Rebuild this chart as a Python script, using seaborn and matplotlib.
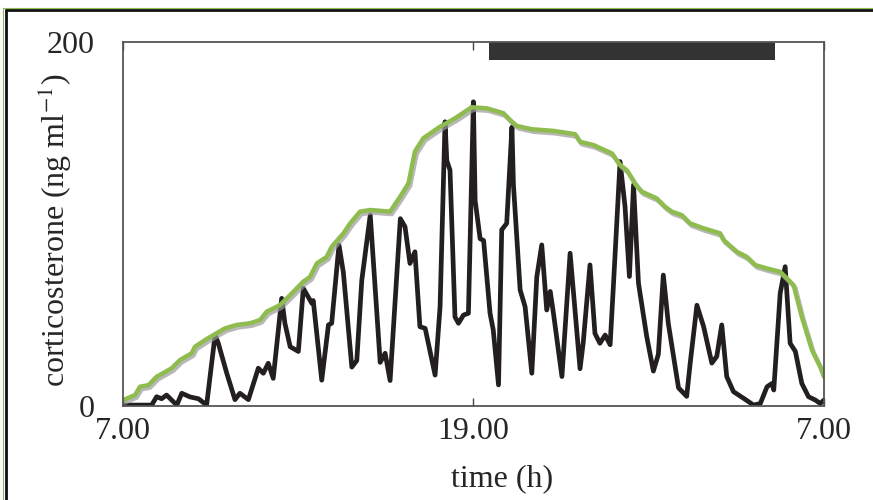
import numpy as np
import pandas as pd
import matplotlib
matplotlib.use("Agg")
import matplotlib.pyplot as plt
import matplotlib.patheffects as pe
from matplotlib.lines import Line2D
import seaborn as sns

# black line: corticosterone pulses (time in h since 7.00)
pulse_t = [0.0, 0.99, 1.16, 1.33, 1.50, 1.85, 2.02, 2.30, 2.59, 2.87, 3.16, 3.27, 3.56, 3.84,
           4.01, 4.30, 4.64, 4.81, 4.98, 5.15, 5.44, 5.55, 5.73, 6.01, 6.18, 6.47, 6.52, 6.81,
           7.04, 7.15, 7.40, 7.55, 7.84, 8.01, 8.18, 8.47, 8.81, 8.98, 9.15, 9.50, 9.66, 9.83,
           10.0, 10.17, 10.35, 10.69, 10.86, 11.03, 11.09, 11.20, 11.37, 11.49, 11.66, 11.83,
           12.0, 12.06, 12.23, 12.35, 12.57, 12.68, 12.86, 12.97, 13.14, 13.32, 13.37, 13.60,
           13.77, 14.0, 14.17, 14.34, 14.51, 14.63, 14.74, 15.03, 15.31, 15.65, 15.76, 15.99,
           16.16, 16.33, 16.51, 16.68, 16.79, 17.02, 17.19, 17.34, 17.48, 17.65, 17.93, 18.16,
           18.33, 18.50, 18.67, 19.02, 19.30, 19.42, 19.65, 19.88, 20.16, 20.33, 20.50, 20.67,
           20.90, 21.24, 21.59, 21.82, 22.05, 22.22, 22.28, 22.50, 22.67, 22.84, 23.02, 23.24,
           23.47, 23.70, 23.87, 24.0]
pulse_y = [0.5, 0.5, 5.1, 4.0, 6.0, 0.5, 7.0, 5.0, 4.0, 0.5, 39.0, 34.5, 18.0, 3.5,
           7.0, 3.5, 20.8, 18.0, 23.5, 15.2, 59.2, 45.5, 32.6, 30.0, 64.7, 56.5, 58.0, 14.2,
           44.6, 45.5, 88.5, 73.5, 21.4, 25.0, 69.0, 105.0, 24.0, 29.0, 14.0, 103.0, 98.6, 78.4,
           84.8, 43.6, 42.7, 17.0, 54.6, 156.3, 135.0, 129.7, 49.0, 45.5, 50.0, 51.0,
           167.3, 113.0, 92.0, 91.0, 51.0, 41.8, 11.6, 96.9, 100.4, 153.4, 122.0, 63.8,
           54.6, 18.0, 71.0, 88.6, 52.8, 63.0, 51.0, 16.2, 84.0, 20.5, 35.0, 77.6,
           39.9, 34.5, 39.0, 33.7, 65.6, 134.4, 109.6, 71.2, 121.6, 67.5, 38.4, 19.2,
           28.4, 72.0, 45.5, 10.0, 5.3, 23.6, 55.4, 43.6, 23.6, 27.3, 44.6, 16.2,
           7.9, 4.3, 0.5, 1.4, 10.6, 12.4, 8.8, 62.0, 76.6, 34.5, 30.0, 12.4,
           5.1, 3.3, 1.4, 3.3]

# green line: envelope
env_t = [0.02, 0.42, 0.59, 0.88, 1.16, 1.67, 1.96, 2.36, 2.47, 2.82, 3.10, 3.50, 3.90, 4.36,
         4.70, 4.93, 5.38, 5.73, 6.18, 6.41, 6.64, 6.98, 7.15, 7.55, 7.78, 8.12, 8.47, 9.15,
         9.49, 9.78, 10.0, 10.29, 10.86, 11.37, 11.94, 12.46, 13.03, 13.26, 13.49, 14.0,
         14.74, 15.48, 15.65, 16.11, 16.74, 17.02, 17.25, 17.53, 17.76, 18.27, 18.56, 18.79,
         19.13, 19.42, 19.88, 20.44, 20.56, 21.02, 21.36, 21.65, 22.05, 22.50, 22.79, 22.96,
         23.24, 23.59, 23.87, 24.0]
env_y = [3.3, 6.0, 10.6, 11.5, 16.1, 20.7, 25.3, 29.0, 32.6, 36.3, 39.0, 42.7, 44.6, 45.5,
         47.3, 51.9, 55.5, 61.0, 68.4, 71.0, 78.4, 82.0, 87.6, 94.9, 100.4, 106.9, 107.8, 106.9,
         115.0, 122.5, 140.0, 147.3, 153.6, 158.2, 164.3, 163.7, 161.0, 157.2, 154.0, 152.2,
         151.3, 149.5, 145.3, 143.5, 138.9, 132.5, 129.7, 122.4, 117.9, 114.2, 109.6, 106.9,
         105.0, 100.4, 97.7, 95.0, 91.3, 84.8, 82.0, 77.5, 75.6, 73.8, 69.2, 66.4,
         49.0, 30.7, 21.5, 16.0]

dark_period = (12.54, 22.32)
x_ticks = [0, 12, 24]
x_labels = ["7.00", "19.00", "7.00"]

sns.set_theme(style="white")
plt.rcParams["font.family"] = ["Liberation Serif", "DejaVu Serif"]
plt.rcParams["mathtext.fontset"] = "stix"

fig = plt.figure(figsize=(8.73, 5.0), dpi=100)
ax = fig.add_axes([0.1406, 0.188, 0.8033, 0.7274])

pulses = pd.DataFrame({"t": pulse_t, "cort": pulse_y})
envelope = pd.DataFrame({"t": env_t, "cort": env_y})

sns.lineplot(data=pulses, x="t", y="cort", ax=ax, color="#231f20", lw=3.4,
             sort=False, solid_joinstyle="round")
shadow = [pe.SimpleLineShadow(offset=(1.2, -1.8), shadow_color="#9a9a9a", alpha=0.7),
          pe.Normal()]
sns.lineplot(data=envelope, x="t", y="cort", ax=ax, color="#8fbc4f", lw=3.2,
             sort=False, path_effects=shadow)

# dark period bar
ax.fill_between(dark_period, 190, 200, color="#333333", lw=0)

ax.set_xlim(0, 24)
ax.set_ylim(0, 200)
ax.set_xticks(x_ticks)
ax.set_xticklabels(x_labels)
ax.set_yticks([0, 200])
ax.set_yticklabels(["0", "200"])
ax.tick_params(axis="x", direction="in", top=True, bottom=True, length=6,
               width=1, color="#444444", labelsize=23, pad=8)
ax.tick_params(axis="y", length=0, labelsize=23, pad=20)
ax.set_xlabel("time (h)", fontsize=23, va="center")
ax.xaxis.set_label_coords(0.541, -0.2)
ax.set_ylabel("corticosterone (ng ml$^{-1}$)", fontsize=23, va="center")
ax.yaxis.set_label_coords(-0.0966, 0.484)
for s in ax.spines.values():
    s.set_color("#555555")
    s.set_linewidth(1.3)

# outer frame (top and left edges only)
fig.add_artist(Line2D([0.007, 1.0], [0.98, 0.98], transform=fig.transFigure,
                      color="#111111", lw=2))
fig.add_artist(Line2D([0.007, 0.007], [0.0, 0.98], transform=fig.transFigure,
                      color="#111111", lw=2))
fig.add_artist(Line2D([0.004, 1.0], [0.984, 0.984], transform=fig.transFigure,
                      color="#8fbc4f", lw=0.8))
fig.add_artist(Line2D([0.004, 0.004], [0.0, 0.984], transform=fig.transFigure,
                      color="#8fbc4f", lw=0.8))

fig.savefig("out.png", dpi=100)
